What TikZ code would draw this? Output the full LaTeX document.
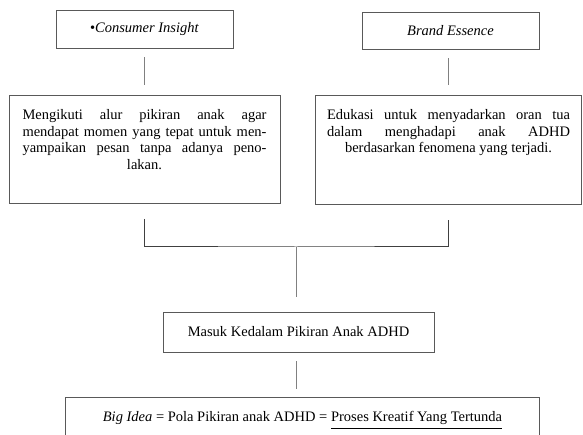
\documentclass[tikz,border=0pt]{standalone}
\usepackage{fontspec}
\setmainfont{Liberation Serif}
\usepackage{tikz}

\begin{document}
\begin{tikzpicture}[x=1pt, y=-1pt,
    every node/.style={font=\fontsize{14.5}{16.5}\selectfont},
    headbox/.style={draw=black!65, line width=0.9pt, minimum width=177pt,
      minimum height=38pt, inner sep=0pt},
    msgbox/.style={draw=black!65, line width=0.9pt, inner xsep=13.5pt,
      inner ysep=0pt, anchor=north},
    link/.style={draw=black!50, line width=1pt, shorten <=9pt, shorten >=10pt},
    frame/.style={draw=black!65, line width=0.9pt}]
  \useasboundingbox[fill=white] (0,0) rectangle (583,435);
  % top row
  \node[headbox] (insight) at (144.5,29) {\textbullet\textit{Consumer Insight}};
  \node[headbox, minimum height=37pt] (essence) at (450.5,30.5) {\textit{Brand Essence}};
  \node[msgbox] (insightmsg) at (144.5,95) {\parbox[t][108pt][t]{244pt}{\vspace*{14pt}%
      {\tolerance=10000 \parfillskip=0pt Mengikuti alur pikiran anak agar\linebreak
      mendapat momen yang tepat untuk men-\linebreak
      yampaikan pesan tanpa adanya peno-\par}\centering lakan.}};
  \node[msgbox, inner xsep=11.5pt] (essencemsg) at (448.5,95) {\parbox[t][109pt][t]{243pt}{\vspace*{14pt}%
      {\tolerance=10000 \parfillskip=0pt Edukasi untuk menyadarkan oran tua\linebreak
      dalam menghadapi anak ADHD\par}\centering berdasarkan fenomena yang terjadi.}};
  \draw[link] (insight) -- (insightmsg);
  \draw[link] (essence.south -| essencemsg) -- (essencemsg);
  % join
  \coordinate (join) at (296,247);
  \draw[link, draw=black!75, shorten <=15pt, shorten >=15pt]
    (insightmsg.south) |- (join) -| (essencemsg.south);
  \node[headbox, minimum width=271pt, minimum height=40pt] (masuk) at (298.5,332)
    {Masuk Kedalam Pikiran Anak ADHD};
  \draw[link, shorten <=0pt, shorten >=15pt] (join) -- (join |- masuk.north);
  % big idea
  \node[anchor=north, minimum width=473pt, minimum height=46pt, inner sep=0pt] (bigidea)
    at (302.5,397) {\textit{Big Idea} = Pola Pikiran anak ADHD =
    \underline{Proses Kreatif Yang Tertunda\rule[-5.5pt]{0pt}{0pt}}};
  \draw[frame] (bigidea.south west) |- (bigidea.north east) -- (bigidea.south east);
  \draw[link, shorten >=8pt] (masuk.south -| join) -- (join |- bigidea.north);
\end{tikzpicture}
\end{document}
